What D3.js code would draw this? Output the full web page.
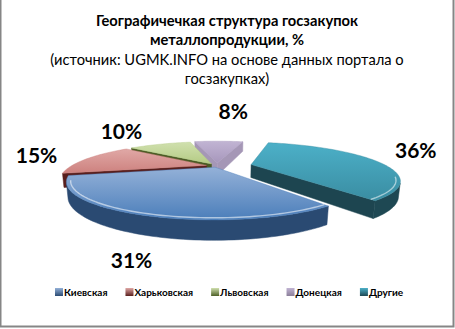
<!DOCTYPE html>
<html>
<head>
<meta charset="utf-8">
<script src="https://cdn.jsdelivr.net/npm/d3@7"></script>
<style>
  body { margin: 0; background: #fff; }
  svg { display: block; }
</style>
</head>
<body>
<svg id="chart"></svg>
<script>
// data
const regions = ['Киевская', 'Харьковская', 'Львовская', 'Донецкая', 'Другие'];
const shares = [31, 15, 10, 8, 36];
const shareLabels = ['31%', '15%', '10%', '8%', '36%'];
const titleLines = ['Географичечкая структура госзакупок', 'металлопродукции, %'];
const subtitleLines = ['(источник: UGMK.INFO на основе данных портала о', 'госзакупках)'];

// look
const topLight = ['#94b1d8', '#e0a8a6', '#d0e0ae', '#c1b4d3', '#4cb0c8'];
const topDark  = ['#4b7eba', '#cd817e', '#b4cb84', '#a797bc', '#3a8da2'];
const sideCol  = ['#2a4a72', '#5a1f1d', '#4d5f26', '#8b7f9a', '#1e4853'];
const cutCol   = ['#33557f', '#581e1c', '#4a5b24', '#a597b6', '#1d4550'];
const explode  = [0.04, 0.08, 0.08, 0.1, 0.26];
const labelNudge = [[64, 3], [-3, 0], [-23, -6], [14, -23], [-7, -7]];

const W = 455, H = 329;
const svg = d3.select('#chart').attr('width', W).attr('height', H);

// simple perspective camera for the 3D pie
const cx = 217, cy = 166;
const tilt = 0.235, cosT = Math.sqrt(1 - tilt * tilt);
const dist = 2.6, focal = 352;
const depth = 0.1;
const cam = [0, dist * tilt, -dist * cosT];

function project(X, Y, Z) {
    const d = dist + Z * cosT - Y * tilt;
    const u = Y * cosT + Z * tilt;
    return [cx + focal * X / d, cy - focal * u / d, d];
}

const start = 145 * Math.PI / 180;
const pie = d3.pie().sort(null).value(d => d)
    .startAngle(start)
    .endAngle(start + 2 * Math.PI);
const arcs = pie(shares);

const defs = svg.append('defs');
arcs.forEach((a, i) => {
    const g = defs.append('linearGradient').attr('id', 'top' + i)
        .attr('x1', 0).attr('y1', 0).attr('x2', 0).attr('y2', 1);
    g.append('stop').attr('offset', '0%').attr('stop-color', topLight[i]);
    g.append('stop').attr('offset', '100%').attr('stop-color', topDark[i]);
    const l = defs.append('linearGradient').attr('id', 'leg' + i)
        .attr('x1', 0).attr('y1', 0).attr('x2', 0).attr('y2', 1);
    l.append('stop').attr('offset', '0%').attr('stop-color', topLight[i]);
    l.append('stop').attr('offset', '100%').attr('stop-color', sideCol[i]);
});

const line = d3.line();
const sides = [];
const tops = [];
const rims = [];

arcs.forEach((a, i) => {
    const mid = (a.startAngle + a.endAngle) / 2;
    const ox = explode[i] * Math.sin(mid), oz = explode[i] * Math.cos(mid);
    const pt = (r, t, y) => project(ox + r * Math.sin(t), y, oz + r * Math.cos(t));
    const n = Math.max(8, Math.ceil((a.endAngle - a.startAngle) / (Math.PI / 120)));
    const ts = d3.range(n + 1).map(k => a.startAngle + (a.endAngle - a.startAngle) * k / n);

    // top face
    tops.push({ i, pts: [pt(0, 0, 0)].concat(ts.map(t => pt(1, t, 0))) });

    // bevel highlight on the near rim
    const front = ts.filter(t => Math.cos(t) < -0.35);
    if (front.length > 1) rims.push(front.map(t => pt(0.975, t, 0)));

    // outer curved side, only the part facing the camera
    let run = [];
    const flush = () => {
        if (run.length > 1) {
            const up = run.map(t => pt(1, t, 0));
            const dn = run.map(t => pt(1, t, -depth)).reverse();
            sides.push({ i, pts: up.concat(dn), d: d3.mean(up, p => p[2]), fill: sideCol[i] });
        }
        run = [];
    };
    ts.forEach(t => {
        const P = [ox + Math.sin(t), -depth / 2, oz + Math.cos(t)];
        const v = (cam[0] - P[0]) * Math.sin(t) + (cam[2] - P[2]) * Math.cos(t);
        if (v > 0) run.push(t); else flush();
    });
    flush();

    // radial cut faces
    [[a.startAngle, [-Math.cos(a.startAngle), Math.sin(a.startAngle)]],
     [a.endAngle, [Math.cos(a.endAngle), -Math.sin(a.endAngle)]]].forEach(([t, nrm]) => {
        const P = [ox + 0.5 * Math.sin(t), -depth / 2, oz + 0.5 * Math.cos(t)];
        const v = (cam[0] - P[0]) * nrm[0] + (cam[2] - P[2]) * nrm[1];
        if (v <= 0) return;
        const pts = [pt(0, t, 0), pt(1, t, 0), pt(1, t, -depth), pt(0, t, -depth)];
        sides.push({ i, pts, d: d3.mean(pts, p => p[2]) + 0.02, fill: cutCol[i] });
    });
});

const pieG = svg.append('g');
sides.sort((p, q) => q.d - p.d).forEach(s => {
    pieG.append('path')
        .attr('d', line(s.pts.map(p => [p[0], p[1]])) + 'Z')
        .attr('fill', s.fill)
        .attr('stroke', s.fill).attr('stroke-width', 0.5);
});
tops.forEach(s => {
    pieG.append('path')
        .attr('d', line(s.pts.map(p => [p[0], p[1]])) + 'Z')
        .attr('fill', `url(#top${s.i})`)
        .attr('stroke', topDark[s.i]).attr('stroke-width', 0.4);
});
rims.forEach(r => {
    pieG.append('path')
        .attr('d', line(r.map(p => [p[0], p[1]])))
        .attr('fill', 'none')
        .attr('stroke', '#ffffff').attr('stroke-opacity', 0.55)
        .attr('stroke-width', 1.4);
});

// data labels
arcs.forEach((a, i) => {
    const mid = (a.startAngle + a.endAngle) / 2;
    const r = 1.45 + explode[i];
    const p = project(r * Math.sin(mid), 0, r * Math.cos(mid));
    svg.append('text')
        .attr('x', p[0] + labelNudge[i][0]).attr('y', p[1] + 7 + labelNudge[i][1])
        .attr('text-anchor', 'middle')
        .attr('font-family', 'Lato, sans-serif')
        .attr('font-weight', 'bold')
        .attr('font-size', 21)
        .attr('fill', '#000')
        .text(shareLabels[i]);
});

// title
const title = svg.append('text')
    .attr('text-anchor', 'middle')
    .attr('font-family', 'Lato, sans-serif')
    .attr('font-size', 14.7)
    .attr('fill', '#000');
titleLines.forEach((t, k) => {
    title.append('tspan').attr('x', 227).attr('y', 26 + k * 19)
        .attr('font-weight', 'bold').text(t);
});
subtitleLines.forEach((t, k) => {
    title.append('tspan').attr('x', 227).attr('y', 65 + k * 19).text(t);
});

// legend
const leg = svg.append('g');
let lx = 0;
regions.forEach((name, i) => {
    const item = leg.append('g').attr('transform', `translate(${lx},0)`);
    item.append('rect').attr('x', 0).attr('y', 288).attr('width', 8).attr('height', 8)
        .attr('fill', `url(#leg${i})`);
    const tx = item.append('text').attr('x', 9).attr('y', 296)
        .attr('font-family', 'Lato, sans-serif')
        .attr('font-weight', 'bold')
        .attr('font-size', 10)
        .attr('fill', '#000')
        .text(name);
    lx += 9 + tx.node().getComputedTextLength() + 18;
});
leg.attr('transform', `translate(55,0)`);

// chart border
svg.append('rect').attr('x', 0.5).attr('y', -2).attr('width', W - 2).attr('height', H - 0.5)
    .attr('fill', 'none').attr('stroke', '#868686').attr('stroke-width', 2);
</script>
</body>
</html>
